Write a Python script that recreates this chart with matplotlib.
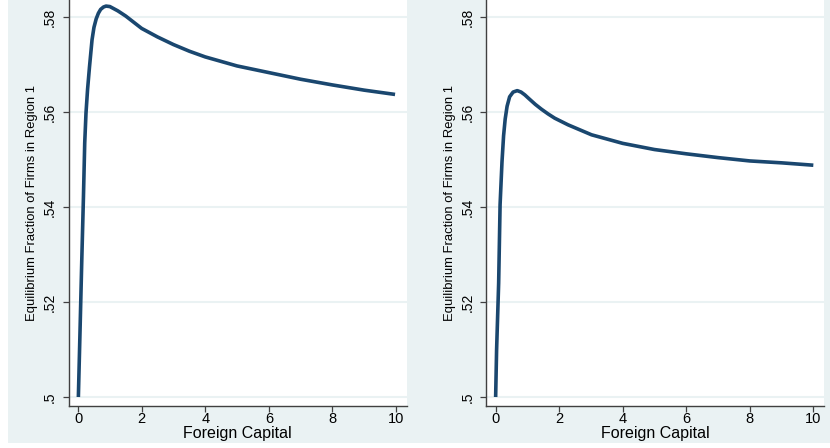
import matplotlib
matplotlib.use("Agg")
import matplotlib.pyplot as plt
from matplotlib.patches import Rectangle

plt.rcParams['font.family'] = ['Liberation Sans', 'DejaVu Sans']

# values
capital_left = [0.01, 0.063, 0.115, 0.17, 0.21, 0.25, 0.30, 0.36, 0.44, 0.50, 0.57,
                0.64, 0.71, 0.80, 0.88, 1.0, 1.25, 1.5, 1.75, 2.0, 2.5, 3.0, 3.5,
                4.0, 5.0, 6.0, 7.0, 8.0, 9.0, 9.97]
share_left = [0.5, 0.5141, 0.5282, 0.5422, 0.5535, 0.5598, 0.5648, 0.5695, 0.5752,
              0.5778, 0.5796, 0.5808, 0.5816, 0.5821, 0.5823, 0.5822, 0.5813,
              0.5802, 0.5789, 0.5776, 0.5758, 0.5742, 0.5728, 0.5716, 0.5697,
              0.5683, 0.5669, 0.5657, 0.5646, 0.5637]

capital_right = [0.0, 0.03, 0.095, 0.14, 0.20, 0.25, 0.30, 0.36, 0.44, 0.55, 0.68,
                 0.80, 0.92, 1.05, 1.25, 1.44, 1.65, 1.86, 2.28, 3.02, 4.0, 5.0,
                 6.0, 7.0, 8.0, 9.0, 10.0]
share_right = [0.5, 0.5099, 0.5240, 0.5405, 0.5495, 0.5550, 0.5585, 0.5612, 0.5632,
               0.5642, 0.5645, 0.5642, 0.5636, 0.5628, 0.5616, 0.5606, 0.5596,
               0.5587, 0.5573, 0.5552, 0.5534, 0.5521, 0.5512, 0.5504, 0.5497,
               0.5493, 0.5488]

y_ticks = [0.5, 0.52, 0.54, 0.56, 0.58]
y_tick_labels = ['.5', '.52', '.54', '.56', '.58']
x_ticks = [0, 2, 4, 6, 8, 10]

bg = '#eaf2f3'
navy = '#1a476f'

fig = plt.figure(figsize=(8.3, 4.48), dpi=100)
fig.add_artist(Rectangle((8 / 830, 1 - 443 / 448), 1, 1, transform=fig.transFigure,
                         facecolor=bg, edgecolor='none', zorder=-5))

panels = [
    ([68.7 / 830, 0.0946, (406.7 - 68.7) / 830, 1 - 0.0946], capital_left, share_left),
    ([486.3 / 830, 0.0946, (824 - 486.3) / 830, 1 - 0.0946], capital_right, share_right),
]

for rect, xs, ys in panels:
    ax = fig.add_axes(rect)
    ax.set_facecolor('white')
    ax.plot(xs, ys, color=navy, lw=2.6, solid_capstyle='butt',
            solid_joinstyle='round', zorder=3)
    ax.set_xlim(-0.294, 10.336)
    ax.set_ylim(0.49819, 0.58358)
    ax.set_xticks(x_ticks)
    ax.set_yticks(y_ticks)
    ax.set_yticklabels(y_tick_labels, rotation=90, va='center')
    for y in y_ticks:
        ax.axhline(y, color=bg, lw=1.5, zorder=1)
    for s in ['top', 'right']:
        ax.spines[s].set_visible(False)
    for s in ['left', 'bottom']:
        ax.spines[s].set_color('#404040')
        ax.spines[s].set_linewidth(1.0)
    ax.tick_params(axis='both', direction='out', length=4.5, width=0.9, color='#404040')
    ax.tick_params(axis='x', labelsize=10.5, pad=0.3)
    ax.tick_params(axis='y', labelsize=10, pad=4)
    ax.set_xlabel('Foreign Capital', fontsize=11.5)
    ax.set_ylabel('Equilibrium Fraction of Firms in Region 1', fontsize=9.4)
    ax.xaxis.set_label_coords(0.5, -0.0505)
    ax.yaxis.set_label_coords(-0.09, 0.5)

fig.savefig('out.png', dpi=100)
